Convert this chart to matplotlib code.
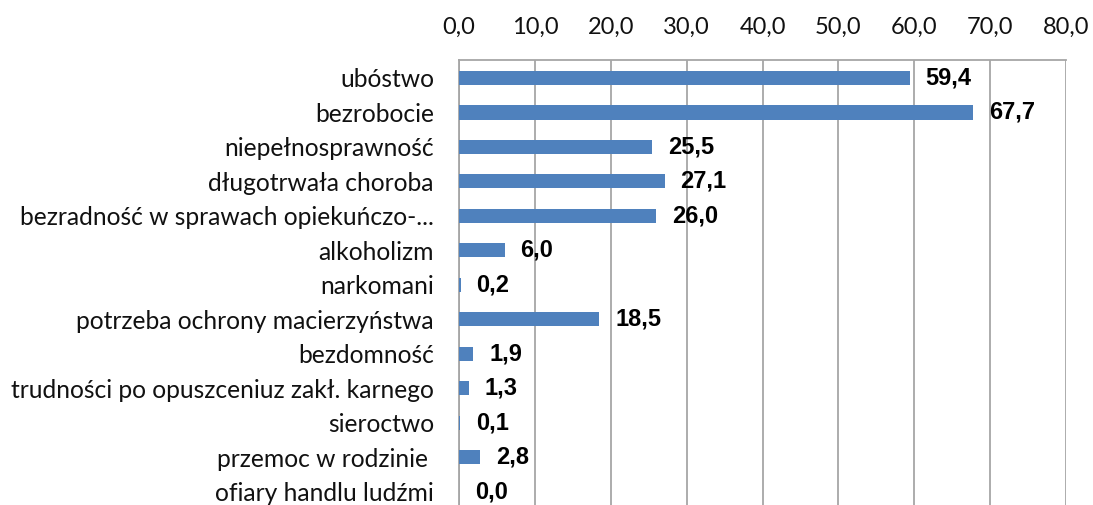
import matplotlib
matplotlib.use("Agg")
import matplotlib.pyplot as plt
from matplotlib.ticker import FuncFormatter

categories = [
    "ubóstwo",
    "bezrobocie",
    "niepełnosprawność",
    "długotrwała choroba",
    "bezradność w sprawach opiekuńczo-...",
    "alkoholizm",
    "narkomani",
    "potrzeba ochrony macierzyństwa",
    "bezdomność",
    "trudności po opuszceniuz zakł. karnego",
    "sieroctwo",
    "przemoc w rodzinie ",
    "ofiary handlu ludźmi",
]
values = [59.4, 67.7, 25.5, 27.1, 26.0, 6.0, 0.2, 18.5, 1.9, 1.3, 0.1, 2.8, 0.0]
xticks = [0, 10, 20, 30, 40, 50, 60, 70, 80]


def pl(v):
    return f"{v:.1f}".replace(".", ",")


fig = plt.figure(figsize=(10.93, 5.05), dpi=100)
ax = fig.add_axes([459 / 1093, 0.0, 607 / 1093, 1 - 60 / 505])

pos = list(range(len(categories)))
ax.barh(pos, values, height=0.41, color="#4F81BD", zorder=3)

ax.set_xlim(0, 80)
ax.set_ylim(12.38, -0.52)
ax.set_xticks(xticks)
ax.xaxis.set_major_formatter(FuncFormatter(lambda v, p: pl(v)))
ax.xaxis.tick_top()
ax.set_yticks(pos)
ax.set_yticklabels(categories)
ax.tick_params(axis="x", length=0, pad=16, labelsize=17, labelcolor="#111111")
ax.tick_params(axis="y", length=0, pad=18, labelsize=17.7, labelcolor="#111111")
for lab in ax.get_xticklabels() + ax.get_yticklabels():
    lab.set_family("Lato")

ax.grid(axis="x", color="#A6A6A6", linewidth=1.3, zorder=0)
ax.grid(axis="y", visible=False)
for side in ["top", "left"]:
    ax.spines[side].set_color("#A6A6A6")
    ax.spines[side].set_linewidth(1.3)
for side in ["right", "bottom"]:
    ax.spines[side].set_visible(False)

for p, v in zip(pos, values):
    ax.annotate(pl(v), (v, p), xytext=(11.5, 0), textcoords="offset points",
                ha="left", va="center", fontsize=17, fontweight="bold",
                family="Liberation Sans", color="black", zorder=4)

fig.savefig("out.png", dpi=100)
